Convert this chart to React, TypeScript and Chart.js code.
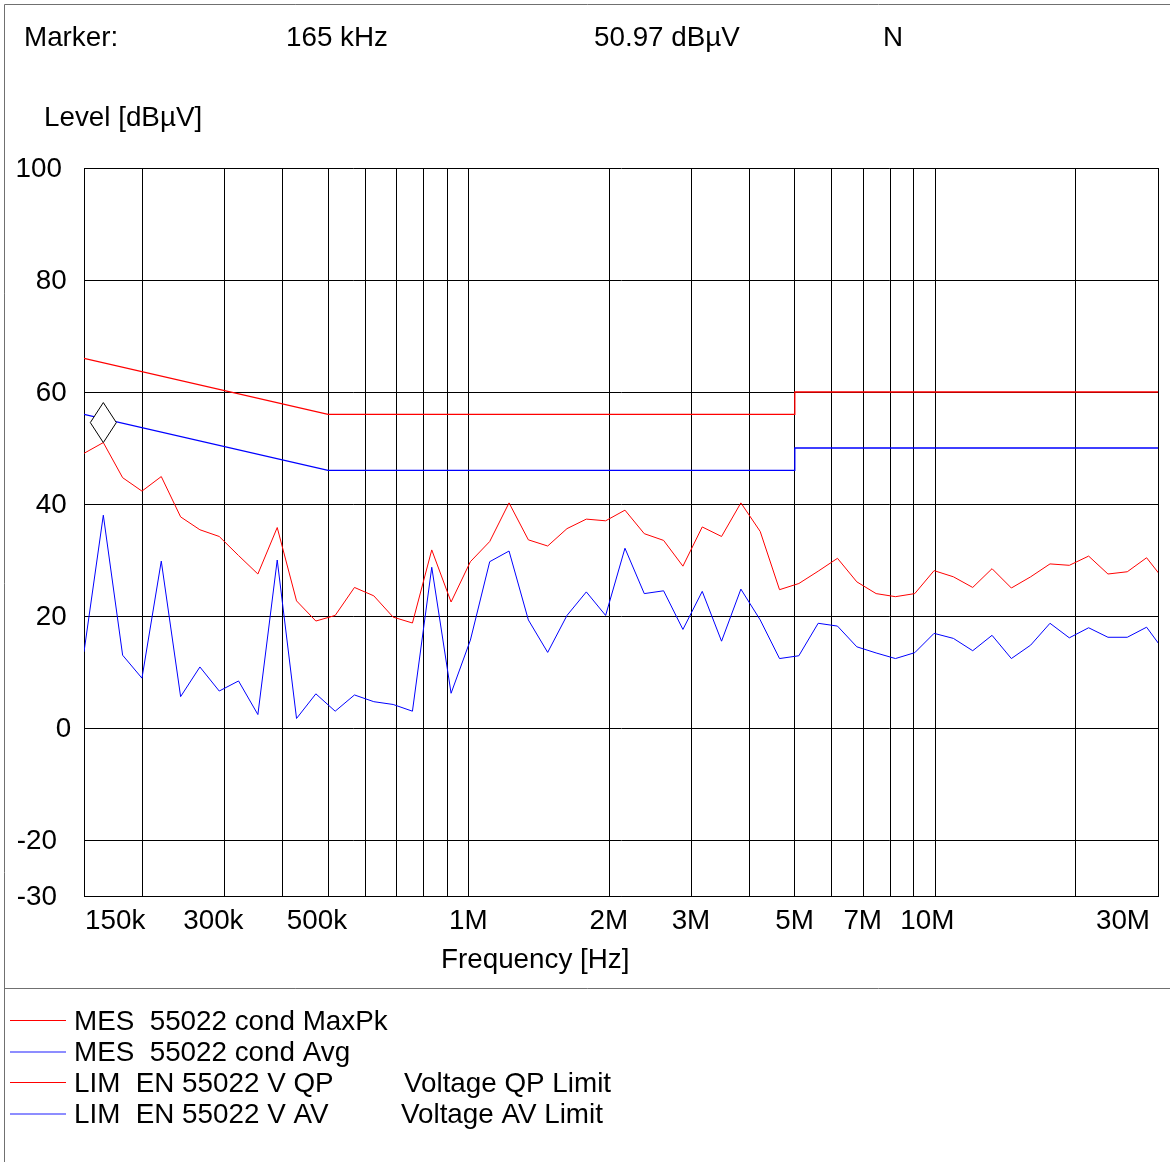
import React, { useEffect, useRef } from "react";
import { Chart, registerables } from "chart.js";

Chart.register(...registerables);

// Measurement frequencies (kHz)
const freqsKHz = [
  150, 165, 181.5, 199.65, 219.6, 241.6, 265.7, 292.3, 321.5, 353.7,
  389.1, 428.0, 470.8, 517.9, 569.6, 626.6, 689.3, 758.2, 834.0, 917.4,
  1009.1, 1110.0, 1221.0, 1343.1, 1477.5, 1625.2, 1787.7, 1966.5, 2163.1, 2379.5,
  2617.4, 2879.2, 3167.1, 3483.8, 3832.2, 4215.4, 4636.9, 5100.6, 5610.7, 6171.7,
  6788.9, 7467.8, 8214.6, 9036.0, 9939.6, 10933.6, 12026.9, 13229.6, 14552.6, 16007.8,
  17608.6, 19369.5, 21306.4, 23437.0, 25780.7, 28358.8, 31194.7,
];

// MES 55022 cond MaxPk (dBµV)
const maxPk = [
  49.05, 50.97, 44.7, 42.3, 44.9, 37.7, 35.4, 34.2, 30.8, 27.5,
  35.8, 22.7, 19.1, 20.1, 25.1, 23.6, 19.8, 18.75, 31.8, 22.5,
  29.7, 33.3, 40.2, 33.6, 32.5, 35.6, 37.3, 37.0, 38.9, 34.7,
  33.5, 28.9, 35.9, 34.2, 40.2, 35.1, 24.7, 25.8, 28.0, 30.3,
  26.1, 24.0, 23.45, 24.0, 28.1, 27.0, 25.1, 28.45, 25.0, 27.0,
  29.3, 29.05, 30.7, 27.5, 27.9, 30.4, 26.0,
];

// MES 55022 cond Avg (dBµV)
const avg = [
  13.6, 38.0, 13.0, 8.9, 29.8, 5.6, 10.9, 6.6, 8.4, 2.4,
  30.0, 1.7, 6.1, 3.0, 5.9, 4.7, 4.2, 3.0, 28.7, 6.2,
  15.7, 29.7, 31.6, 19.3, 13.5, 20.1, 24.3, 20.1, 32.1, 24.0,
  24.5, 17.6, 24.4, 15.5, 24.8, 19.3, 12.4, 12.9, 18.7, 18.2,
  14.5, 13.4, 12.4, 13.45, 16.9, 16.0, 13.8, 16.55, 12.4, 14.8,
  18.7, 16.1, 17.9, 16.2, 16.2, 18.0, 13.3,
];

// Limits (EN 55022)
const qpLimitFreq = [150000, 500000, 5000000, 5000000, 30000000];
const qpLimitLevel = [66, 56, 56, 60, 60];
const avLimitFreq = [150000, 500000, 5000000, 5000000, 30000000];
const avLimitLevel = [56, 46, 46, 50, 50];

// Axis ticks
const xGridTicks = [
  150000, 200000, 300000, 400000, 500000, 600000, 700000, 800000, 900000,
  1000000, 2000000, 3000000, 4000000, 5000000, 6000000, 7000000, 8000000, 9000000,
  10000000, 20000000, 30000000,
];
const xLabelTicks = [150000, 300000, 500000, 1000000, 2000000, 3000000, 5000000, 7000000, 10000000, 30000000];
const xLabelTexts = ["150k", "300k", "500k", "1M", "2M", "3M", "5M", "7M", "10M", "30M"];
const yTicks = [-30, -20, 0, 20, 40, 60, 80, 100];

// Marker
const markerFreq = 165000;
const markerLevel = 50.97;

// Legend
const legendNames = ["MES  55022 cond MaxPk", "MES  55022 cond Avg", "LIM  EN 55022 V QP", "LIM  EN 55022 V AV"];
const legendNotes = ["", "", "Voltage QP Limit", "Voltage AV Limit"];

const RED = "#ff0000";
const BLUE = "#0000ff";
const FONT = "27.8px 'Liberation Sans', Arial, sans-serif";

const overlayPlugin = {
  id: "overlay",
  afterDraw(chart: any) {
    const ctx = chart.ctx as CanvasRenderingContext2D;
    const xs = chart.scales.x;
    const ys = chart.scales.y;
    const area = chart.chartArea;
    ctx.save();

    // frame
    ctx.strokeStyle = "#707070";
    ctx.lineWidth = 1;
    ctx.beginPath();
    ctx.moveTo(4.5, 1162);
    ctx.lineTo(4.5, 4.5);
    ctx.lineTo(1170, 4.5);
    ctx.moveTo(4.5, 988.5);
    ctx.lineTo(1170, 988.5);
    ctx.stroke();

    ctx.font = FONT;
    ctx.fillStyle = "#000";
    ctx.textBaseline = "alphabetic";
    ctx.textAlign = "left";

    // header
    ctx.fillText("Marker:", 24, 46);
    ctx.fillText(`${markerFreq / 1000} kHz`, 286, 46);
    ctx.fillText(`${markerLevel.toFixed(2)} dBµV`, 594, 46);
    ctx.fillText("N", 883, 46);
    ctx.fillText("Level [dBµV]", 44, 126);

    // y labels
    ctx.textBaseline = "middle";
    ctx.textAlign = "right";
    yTicks.forEach((v) => {
      const s = String(v);
      const right = 76 - 4.7 * s.length - (v < 0 ? 5 : 0);
      ctx.fillText(s, right, ys.getPixelForValue(v) + 1);
    });

    // x labels
    ctx.textBaseline = "alphabetic";
    ctx.textAlign = "left";
    xLabelTicks.forEach((v, i) => {
      const s = xLabelTexts[i];
      const w = ctx.measureText(s).width;
      let right = xs.getPixelForValue(v) + 19;
      if (right - w < area.left + 1) right = area.left + 1 + w;
      if (right > area.right - 8) right = area.right - 8;
      ctx.fillText(s, right - w, 929);
    });
    ctx.fillText("Frequency [Hz]", 441, 968);

    // marker diamond
    const mx = xs.getPixelForValue(markerFreq);
    const my = ys.getPixelForValue(markerLevel);
    ctx.beginPath();
    ctx.moveTo(mx, my);
    ctx.lineTo(mx + 13, my - 20);
    ctx.lineTo(mx, my - 40);
    ctx.lineTo(mx - 13, my - 20);
    ctx.closePath();
    ctx.fillStyle = "#fff";
    ctx.fill();
    ctx.strokeStyle = "#000";
    ctx.lineWidth = 1;
    ctx.stroke();

    // legend
    const colors = chart.data.datasets.map((d: any) => d.borderColor);
    legendNames.forEach((name, i) => {
      const base = 1030 + 31 * i;
      const isBlue = colors[i] === BLUE;
      ctx.strokeStyle = colors[i];
      ctx.lineWidth = isBlue ? 1.4 : 1;
      ctx.globalAlpha = isBlue ? 0.6 : 1;
      ctx.beginPath();
      ctx.moveTo(10, base - (isBlue ? 9 : 9.5));
      ctx.lineTo(66, base - (isBlue ? 9 : 9.5));
      ctx.stroke();
      ctx.globalAlpha = 1;
      ctx.fillStyle = "#000";
      ctx.fillText(name, 74, base);
      if (legendNotes[i]) ctx.fillText(legendNotes[i], i === 2 ? 404 : 401, base);
    });

    ctx.restore();
  },
};

export default function App() {
  const ref = useRef<HTMLCanvasElement | null>(null);
  useEffect(() => {
    if (!ref.current) return;
    const toPts = (fs: number[], ls: number[], mult = 1) => fs.map((f, i) => ({ x: f * mult, y: ls[i] }));
    const chart = new Chart(ref.current, {
      type: "line",
      data: {
        datasets: [
          { label: legendNames[0], data: toPts(freqsKHz, maxPk, 1000), borderColor: RED, borderWidth: 1, pointRadius: 0, tension: 0 },
          { label: legendNames[1], data: toPts(freqsKHz, avg, 1000), borderColor: BLUE, borderWidth: 1, pointRadius: 0, tension: 0 },
          { label: legendNames[2], data: toPts(qpLimitFreq, qpLimitLevel), borderColor: RED, borderWidth: 1.3, pointRadius: 0, tension: 0 },
          { label: legendNames[3], data: toPts(avLimitFreq, avLimitLevel), borderColor: BLUE, borderWidth: 1.3, pointRadius: 0, tension: 0 },
        ],
      },
      options: {
        responsive: false,
        animation: false,
        devicePixelRatio: 1,
        layout: { padding: { left: 0, top: 168, right: 12, bottom: 266 } },
        plugins: { legend: { display: false }, tooltip: { enabled: false }, title: { display: false } },
        scales: {
          x: {
            type: "logarithmic",
            min: 150000,
            max: 30000000,
            afterBuildTicks: (s: any) => {
              s.ticks = xGridTicks.map((v) => ({ value: v }));
            },
            afterFit: (s: any) => {
              s.height = 0;
            },
            ticks: { display: false },
            grid: { color: "#000", lineWidth: 1, drawTicks: false },
            border: { color: "#000", width: 1 },
          },
          y: {
            type: "linear",
            min: -30,
            max: 100,
            afterBuildTicks: (s: any) => {
              s.ticks = yTicks.map((v) => ({ value: v }));
            },
            afterFit: (s: any) => {
              s.width = 84;
            },
            ticks: { display: false },
            grid: { color: "#000", lineWidth: 1, drawTicks: false },
            border: { color: "#000", width: 1 },
          },
        },
      } as any,
      plugins: [overlayPlugin],
    });
    return () => chart.destroy();
  }, []);
  return (
    <div style={{ position: "absolute", left: 0, top: 0, width: 1170, height: 1162, background: "#fff" }}>
      <canvas ref={ref} width={1170} height={1162} style={{ display: "block", width: 1170, height: 1162 }} />
    </div>
  );
}
